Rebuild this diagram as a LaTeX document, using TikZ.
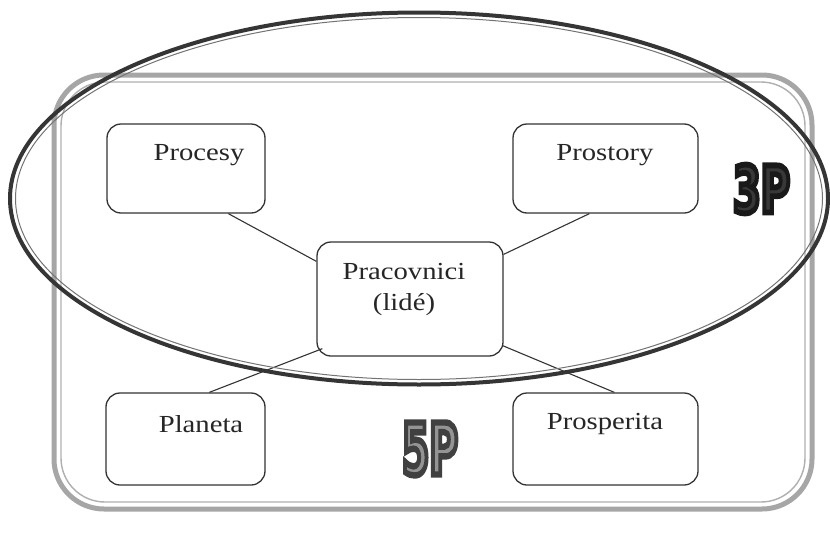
\documentclass[tikz,border=0pt]{standalone}
\usepackage{fontspec}
\usepackage{graphicx}
\usetikzlibrary{calc}
\setmainfont[FakeStretch=1.17]{Liberation Serif}
\newfontfamily\bigpfont{DejaVu Sans Condensed}
\definecolor{boxline}{HTML}{333333}
\definecolor{frameg}{HTML}{A6A6A6}
\definecolor{ellg}{HTML}{353535}
\tikzset{
  pbox/.style={draw=boxline, line width=1.3pt, rounded corners=14pt, fill=white, inner sep=0pt},
  ptext/.style={font=\fontsize{24.5}{31}\selectfont, text=black!85, inner sep=0pt, align=center},
  conn/.style={draw=boxline, line width=1.1pt},
}
\newcommand{\outlinedtext}[3]{\textcolor{#1}{\special{pdf:literal #2 G 2 Tr 0.9 w}#3\special{pdf:literal 0 Tr}}}
\begin{document}
\begin{tikzpicture}[x=1pt,y=-1pt]
\useasboundingbox (0,0) rectangle (830,533);
% outer grey frame (double line)
\draw[frameg, line width=5pt, rounded corners=50pt] (54,75) rectangle (812,509);
\draw[frameg!90, line width=1.4pt, rounded corners=44pt] (61,82) rectangle (805,502);
% boxes
\node[pbox, minimum width=158pt, minimum height=89pt] (procesy) at (186,168.5) {};
\node[pbox, minimum width=185pt, minimum height=89pt] (prostory) at (605.5,168.5) {};
\node[pbox, minimum width=186pt, minimum height=114pt] (pracov) at (410,299) {};
\node[pbox, minimum width=159pt, minimum height=92pt] (planeta) at (185.5,439) {};
\node[pbox, minimum width=185pt, minimum height=92pt] (prosper) at (605.5,439) {};
% connectors
\draw[conn] ($(procesy.south west)+(122,0)$) -- ($(pracov.north west)+(0,20)$);
\draw[conn] ($(prostory.south west)+(77,0)$) -- ($(pracov.north east)+(0,13)$);
\draw[conn] ($(planeta.north west)+(104,0)$) -- ($(pracov.south west)+(6,-8)$);
\draw[conn] ($(prosper.north west)+(102,0)$) -- ($(pracov.south east)+(-1,-11)$);
% texts
\node[ptext] (t1) at (199,155) {Procesy};
\node[ptext] (t2) at (605,155) {Prostory};
\node[ptext] (t3) at (404,289) {Pracovnici\\(lidé)};
\node[ptext] (t4) at (201,424) {Planeta};
\node[ptext] (t5) at (605,424) {Prosperita};
% big labels
\node[inner sep=0pt] (p3) at (761.5,189) {\resizebox{57pt}{48pt}{\bigpfont\bfseries\outlinedtext{black!78}{0.1}{3P}}};
\node[inner sep=0pt] (p5) at (430,449) {\resizebox{56pt}{52pt}{\bigpfont\bfseries\outlinedtext{black!42}{0.25}{5P}}};
% ellipse
\draw[ellg, line width=4pt] (419,198.5) ellipse [x radius=409pt, y radius=186pt];
\draw[black!55, line width=1pt] (419,198.5) ellipse [x radius=403.5pt, y radius=181pt];
\end{tikzpicture}
\end{document}
